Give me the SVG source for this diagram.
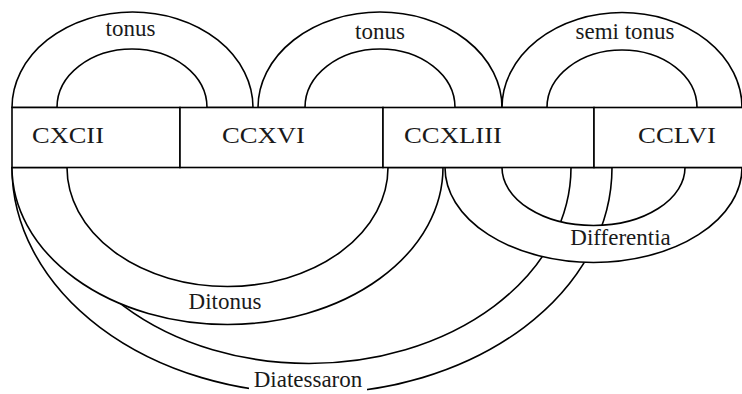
<svg xmlns="http://www.w3.org/2000/svg" width="742" height="394" viewBox="0 0 742 394">
  <style>
    .band { fill: #ffffff; fill-rule: evenodd; stroke: #000000; stroke-width: 1.6; stroke-linejoin: round; }
    .box { fill: #ffffff; stroke: #000000; stroke-width: 1.6; }
  </style>

  <!-- interval bands (arches above and below the row of numbers) -->
  <g id="connectors">
    <!-- Diatessaron: CXCII to CCLVI, drawn first so the other bands lie over it -->
    <path class="band" d="M12,167.5 A300,226 0 0 0 612,167.5 L571,167.5 A262,196 0 0 1 47,167.5 Z"/>
    <!-- Ditonus: CXCII to CCXLIII -->
    <path class="band" d="M12,167.5 A215.5,157 0 0 0 443,167.5 L388,167.5 A160.5,119 0 0 1 67,167.5 Z"/>
    <!-- Differentia: CCXLIII to CCLVI -->
    <path class="band" d="M445,167.5 A148.5,95 0 0 0 742,167.5 L685,167.5 A91.5,58 0 0 1 502,167.5 Z"/>
    <!-- tonus: CXCII to CCXVI -->
    <path class="band" d="M12,107.5 A120.5,95.5 0 0 1 253,107.5 L207,107.5 A75,58.5 0 0 0 57,107.5 Z"/>
    <!-- tonus: CCXVI to CCXLIII -->
    <path class="band" d="M258,107.5 A122,95.5 0 0 1 502,107.5 L455,107.5 A75,58.5 0 0 0 305,107.5 Z"/>
    <!-- semi tonus: CCXLIII to CCLVI -->
    <path class="band" d="M502,107.5 A120,95 0 0 1 742,107.5 L697,107.5 A75,57.5 0 0 0 547,107.5 Z"/>
  </g>

  <!-- band labels -->
  <g id="labels" font-family="Liberation Serif, serif" font-size="23" fill="#1a1a1a" text-anchor="middle">
    <text x="130.5" y="36">tonus</text>
    <text x="380" y="39">tonus</text>
    <text x="625" y="39">semi tonus</text>
    <text x="225" y="309">Ditonus</text>
    <text x="620.5" y="245">Differentia</text>
    <rect x="249" y="370" width="118" height="24" fill="#ffffff"/>
    <text x="308" y="387">Diatessaron</text>
  </g>

  <!-- the row of numbers -->
  <g id="nodes" font-family="Liberation Serif, serif" font-size="23" fill="#1a1a1a">
    <g id="node-cxcii">
      <rect class="box" x="12" y="107.5" width="168" height="60"/>
      <text x="32" y="143" textLength="72" lengthAdjust="spacingAndGlyphs">CXCII</text>
    </g>
    <g id="node-ccxvi">
      <rect class="box" x="180" y="107.5" width="203" height="60"/>
      <text x="222" y="143" textLength="83" lengthAdjust="spacingAndGlyphs">CCXVI</text>
    </g>
    <g id="node-ccxliii">
      <rect class="box" x="383" y="107.5" width="211" height="60"/>
      <text x="404" y="143" textLength="98" lengthAdjust="spacingAndGlyphs">CCXLIII</text>
    </g>
    <g id="node-cclvi">
      <rect class="box" x="594" y="107.5" width="160" height="60"/>
      <text x="638" y="143" textLength="78" lengthAdjust="spacingAndGlyphs">CCLVI</text>
    </g>
  </g>
</svg>
